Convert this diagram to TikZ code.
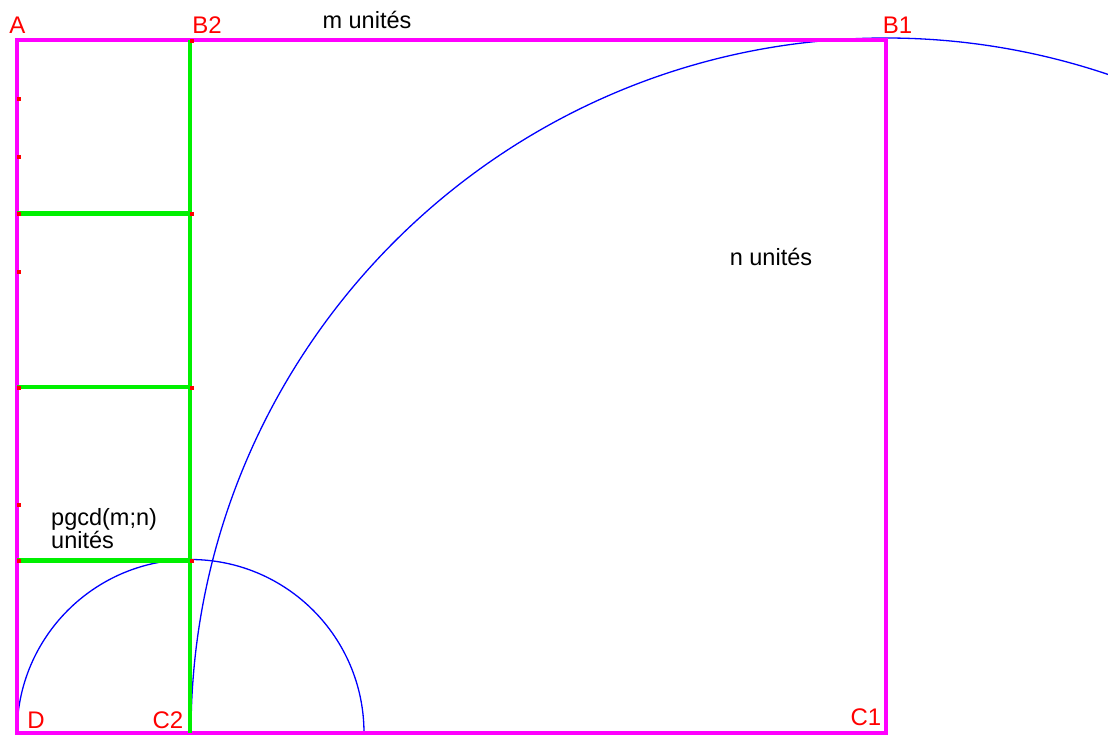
\documentclass[tikz,border=0pt]{standalone}
\usepackage{fontspec}
\setmainfont{Liberation Sans}
\definecolor{framemag}{RGB}{255,0,255}
\definecolor{sqgreen}{RGB}{0,240,0}
\definecolor{arcblue}{RGB}{0,0,255}
\definecolor{ptred}{RGB}{255,0,0}
\begin{document}
\begin{tikzpicture}[x=1pt,y=-1pt,
  frame/.style={draw=framemag,line width=4.5pt},
  greenline/.style={draw=sqgreen,line width=4.5pt},
  bluearc/.style={draw=arcblue,line width=1.3pt},
  ptlabel/.style={text=ptred,font=\fontsize{24}{24}\selectfont,inner sep=0pt},
  txtlabel/.style={text=black,font=\fontsize{23.5}{23}\selectfont,inner sep=0pt},
  reddot/.style={fill=ptred,draw=none}]
\useasboundingbox (0,0) rectangle (1108,736);
\clip (0,0) rectangle (1108,736);
\coordinate (A) at (17,40);
\coordinate (B2) at (190,40);
\coordinate (B1) at (886,40);
\coordinate (C1) at (886,733);
\coordinate (C2) at (190,733);
\coordinate (D) at (17,733);
\coordinate (L1) at (17,213.5);
\coordinate (L2) at (17,387);
\coordinate (L3) at (17,560.5);
\coordinate (R1) at (190,213.5);
\coordinate (R2) at (190,387);
\coordinate (R3) at (190,560.5);
% arcs
\draw[bluearc] (191,733) arc[start angle=180,end angle=310,radius=695];
\draw[bluearc] (D) arc[start angle=180,end angle=360,radius=173.5];
% frame
\draw[frame] (A) -- (B1) -- (C1) -- (D) -- cycle;
% green lines
\draw[greenline] (B2) -- (C2);
\draw[greenline] (L1) -- (R1);
\draw[greenline] (L2) -- (R2);
\draw[greenline] (L3) -- (R3);
% red dots
\foreach \y in {99,157,214,272,388,505,561}
  \fill[reddot] (16.5,\y-2) rectangle +(4.5,4);
\foreach \y in {41,214,388,561}
  \fill[reddot] (189.5,\y-2) rectangle +(4.5,4);
% labels
\node[ptlabel,anchor=base] (lA) at (17.5,33) {A};
\node[ptlabel,anchor=base] (lB2) at (207,33) {B2};
\node[ptlabel,anchor=base] (lB1) at (897.5,33) {B1};
\node[ptlabel,anchor=base] (lD) at (36,728) {D};
\node[ptlabel,anchor=base] (lC2) at (168,728) {C2};
\node[ptlabel,anchor=base] (lC1) at (866,725) {C1};
\node[txtlabel,anchor=base] (lm) at (367,28) {m unités};
\node[txtlabel,anchor=base] (ln) at (771,265) {n unités};
\node[txtlabel,anchor=base west,align=left] (lp) at (51,548) {pgcd(m;n)\\unités};
\end{tikzpicture}
\end{document}
